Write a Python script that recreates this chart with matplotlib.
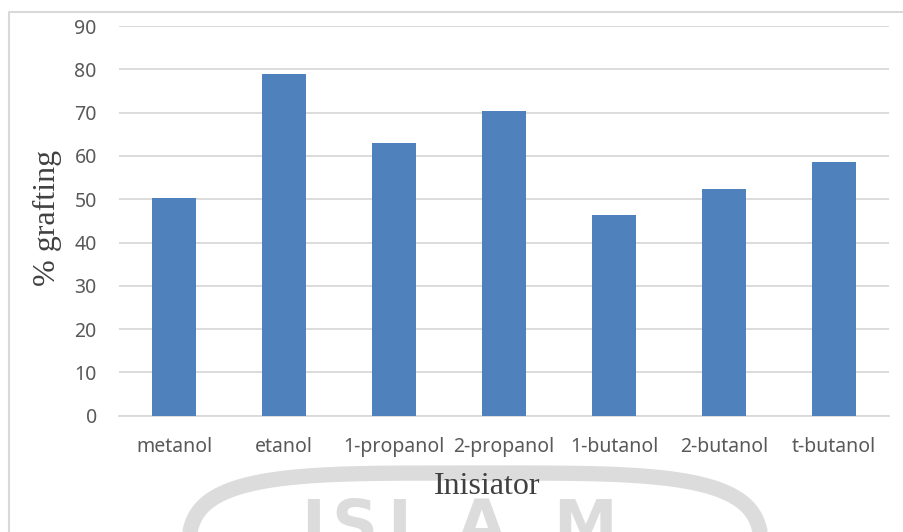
import numpy as np
import matplotlib
matplotlib.use("Agg")
import matplotlib.pyplot as plt
from matplotlib.lines import Line2D

# % grafting per initiator alcohol
categories = ["metanol", "etanol", "1-propanol", "2-propanol", "1-butanol", "2-butanol", "t-butanol"]
grafting = [50.3, 78.9, 62.9, 70.3, 46.3, 52.4, 58.6]
y_ticks = [0, 10, 20, 30, 40, 50, 60, 70, 80, 90]

W, H = 904, 532
BAR_COLOR = "#4F81BD"
GRID_COLOR = "#D9D9D9"
TICK_COLOR = "#595959"


def px(x, y):
    # pixel position (top-left origin) -> figure fraction
    return x / W, 1 - y / H


fig = plt.figure(figsize=(W / 100, H / 100), dpi=100)
fig.patch.set_facecolor("white")

# faint background stamp behind the chart
t = np.linspace(0, np.pi, 300)
n = 4.0
cx, cy, a, b = 475, 572, 287, 99
sx = cx + a * np.sign(np.cos(t)) * np.abs(np.cos(t)) ** (2 / n)
sy = cy - b * np.abs(np.sin(t)) ** (2 / n)
fx, fy = px(sx, sy)
fig.add_artist(Line2D(fx, fy, transform=fig.transFigure, color="#DCDCDC",
                      lw=11, solid_capstyle="butt", zorder=0))
for letter, lx in zip("ISLAM", [313, 354, 407, 481, 585]):
    x0, y0 = px(lx, 546)
    fig.text(x0, y0, letter, ha="center", va="baseline", fontsize=46,
             fontweight="bold", family="DejaVu Sans", color="#DCDCDC", zorder=0)

# outer chart frame (top and left edges)
fig.add_artist(Line2D(*zip(px(9, 532), px(9, 12), px(904, 12)),
                      transform=fig.transFigure, color=GRID_COLOR, lw=1.5, zorder=1))

left, right = 119 / W, 889 / W
bottom, top = 1 - 415.7 / H, 1 - 26 / H
ax = fig.add_axes([left, bottom, right - left, top - bottom])
ax.patch.set_alpha(0)

x = np.arange(len(categories))
ax.bar(x, grafting, width=0.4, color=BAR_COLOR, zorder=3)

ax.set_xlim(-0.5, len(categories) - 0.5)
ax.set_ylim(0, 90)
ax.set_yticks(y_ticks)
ax.set_xticks(x)
ax.set_xticklabels(categories)
ax.grid(axis="y", color=GRID_COLOR, lw=1.3, zorder=0)
ax.set_axisbelow(True)

for side in ["top", "right", "left"]:
    ax.spines[side].set_visible(False)
ax.spines["bottom"].set_color(GRID_COLOR)
ax.spines["bottom"].set_linewidth(1.3)

ax.tick_params(axis="both", length=0, labelcolor=TICK_COLOR, labelsize=14)
ax.tick_params(axis="x", pad=15)
ax.tick_params(axis="y", pad=16)
for lbl in ax.get_xticklabels() + ax.get_yticklabels():
    lbl.set_family("Noto Sans")

xl, yl = px(487, 486)
fig.text(xl, yl, "Inisiator", ha="center", va="center", fontsize=23,
         family="Liberation Serif", color="#404040")
xl, yl = px(47, 218)
fig.text(xl, yl, "% grafting", ha="center", va="center", rotation=90,
         fontsize=23, family="Liberation Serif", color="#404040")

fig.savefig("out.png", dpi=100)
